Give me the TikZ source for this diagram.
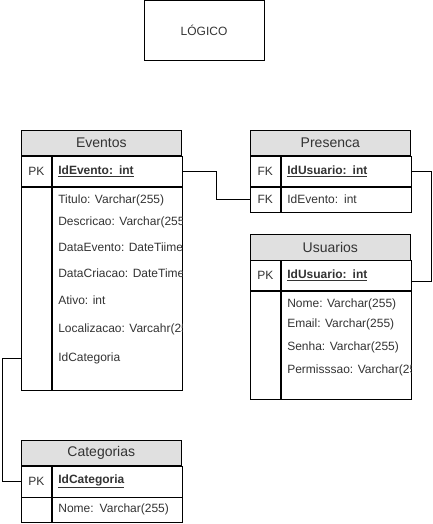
\documentclass[tikz,border=0pt]{standalone}
\usepackage{fontspec}
\setmainfont{Liberation Sans}
\usetikzlibrary{positioning}

\definecolor{hdrgray}{HTML}{E0E0E0}
\definecolor{txtgray}{HTML}{333333}

\tikzset{
  cell/.style={draw, line width=0.6pt, inner sep=0pt, anchor=north west, text=txtgray},
  hdr/.style={cell, fill=hdrgray, minimum width=160pt, minimum height=25.5pt, font=\fontsize{14}{16}\selectfont},
  keycell/.style={cell, minimum width=30pt, font=\fontsize{12}{14}\selectfont},
  fldcell/.style={cell, minimum width=130pt, text width=117pt, align=left, inner xsep=6.5pt, font=\fontsize{12}{14}\selectfont},
  fld/.style={anchor=west, inner sep=0pt, text=txtgray, font=\fontsize{12}{14}\selectfont},
  link/.style={draw, line width=0.6pt}
}

\begin{document}
\begin{tikzpicture}[x=1pt, y=-1pt]
    \useasboundingbox (0,0) rectangle (432,524);

    %titulo
    \node[cell, minimum width=120.5pt, minimum height=60pt, font=\fontsize{12}{14}\selectfont] (logico) at (143.5,0.5) {LÓGICO};

    %Eventos
    \node[hdr] (evhdr) at (21,129.5) {Eventos};
    \node[keycell, minimum height=30.5pt] (evpkk) at (evhdr.south west) {PK};
    \node[fldcell, minimum height=30.5pt, right=0pt of evpkk] (evpk) {\underline{\textbf{IdEvento: int}}};
    \node[keycell, minimum height=203pt] (evbk) at (evpkk.south west) {};
    \node[cell, minimum width=130pt, minimum height=203pt] (evbf) at (evpkk.south east) {};
    \begin{scope}
      \clip (evbf.north west) rectangle (evbf.south east);
      \node[fld] (evtit) at ([shift={(6.5,14)}]evbf.north west) {Titulo: Varchar(255)};
      \node[fld] (evdes) at ([shift={(6.5,35.5)}]evbf.north west) {Descricao: Varchar(255)};
      \node[fld] (evdev) at ([shift={(6.5,60.5)}]evbf.north west) {DataEvento: DateTiime};
      \node[fld] (evdcr) at ([shift={(6.5,86.5)}]evbf.north west) {DataCriacao: DateTime};
      \node[fld] (evati) at ([shift={(6.5,114)}]evbf.north west) {Ativo: int};
      \node[fld] (evloc) at ([shift={(6.5,143)}]evbf.north west) {Localizacao: Varcahr(255)};
      \node[fld] (evcat) at ([shift={(6.5,172)}]evbf.north west) {IdCategoria};
    \end{scope}

    %Presenca
    \node[hdr] (prhdr) at (250,129.5) {Presenca};
    \node[keycell, minimum height=30.5pt] (prfk1k) at (prhdr.south west) {FK};
    \node[fldcell, minimum height=30.5pt, right=0pt of prfk1k] (prfk1) {\underline{\textbf{IdUsuario: int}}};
    \node[keycell, minimum height=25pt] (prfk2k) at (prfk1k.south west) {FK};
    \node[fldcell, minimum height=25pt, right=0pt of prfk2k] (prfk2) {IdEvento: int};

    %Usuarios
    \node[hdr] (ushdr) at (250,234) {Usuarios};
    \node[keycell, minimum height=30pt] (uspkk) at (ushdr.south west) {PK};
    \node[fldcell, minimum height=30pt, right=0pt of uspkk] (uspk) {\underline{\textbf{IdUsuario: int}}};
    \node[keycell, minimum height=108.5pt] (usbk) at (uspkk.south west) {};
    \node[cell, minimum width=130pt, minimum height=108.5pt] (usbf) at (uspkk.south east) {};
    \begin{scope}
      \clip (usbf.north west) rectangle (usbf.south east);
      \node[fld] (usnom) at ([shift={(6.5,14)}]usbf.north west) {Nome: Varchar(255)};
      \node[fld] (usema) at ([shift={(6.5,34)}]usbf.north west) {Email: Varchar(255)};
      \node[fld] (ussen) at ([shift={(6.5,57)}]usbf.north west) {Senha: Varchar(255)};
      \node[fld] (usper) at ([shift={(6.5,80)}]usbf.north west) {Permisssao: Varchar(255)};
    \end{scope}

    %Categorias
    \node[hdr] (cahdr) at (21,439.5) {Categorias};
    \node[keycell, minimum height=31pt] (capkk) at (cahdr.south west) {PK};
    \node[fldcell, minimum height=31pt, right=0pt of capkk] (capk) {\underline{\textbf{IdCategoria}}};
    \node[keycell, minimum height=24.5pt] (cank) at (capkk.south west) {};
    \node[fldcell, minimum height=24.5pt, right=0pt of cank] (canf) {Nome: Varchar(255)};

    %ligacoes
    \draw[link] (evpk.east) -- ++(34,0) |- (prfk2k.west);
    \draw[link] (prfk1.east) -- ++(20.5,0) |- ([yshift=-6pt]uspk.east);
    \draw[link] (evbk.west |- evcat) -- ++(-19,0) |- (capkk.west);
\end{tikzpicture}
\end{document}
